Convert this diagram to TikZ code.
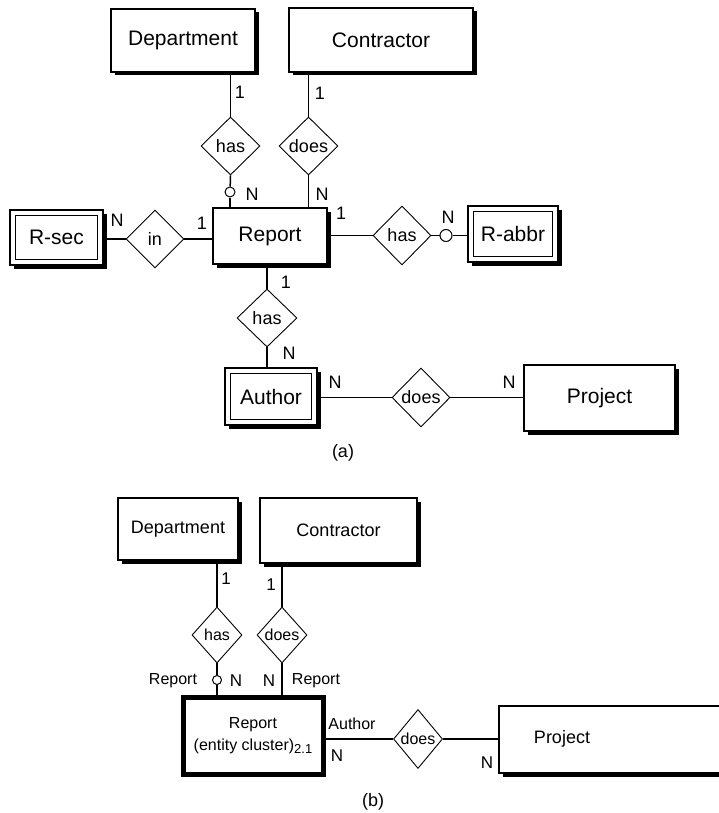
\documentclass[tikz,border=0pt]{standalone}
\usepackage{fontspec}
\setmainfont{Liberation Sans}
\usetikzlibrary{shapes.geometric,shadows}
\begin{document}
\begin{tikzpicture}[x=1pt,y=-1pt,
 ent/.style={draw, line width=1.6pt, fill=white, inner sep=0pt,
   drop shadow={shadow xshift=3.5pt,shadow yshift=-3.5pt,opacity=1,fill=black}},
 rel/.style={draw, diamond, line width=0.9pt, fill=white, inner sep=0pt, aspect=1},
 opt/.style={draw, circle, line width=1pt, fill=white, inner sep=0pt, minimum size=#1},
 opt/.default=10pt,
 fA/.style={font=\fontsize{21}{24}\selectfont},
 fB/.style={font=\fontsize{18}{21}\selectfont},
 fC/.style={font=\fontsize{16}{22}\selectfont},
 fD/.style={font=\fontsize{17}{20}\selectfont},
 lbl/.style={inner sep=0pt},
 conn/.style={line width=1.5pt},
 inner/.style={line width=1.2pt}]
\useasboundingbox (0,0) rectangle (719,813);
\clip (0,0) rectangle (719,813);

% ---------------- (a) ----------------
\node[ent, fA, minimum width=144pt, minimum height=63pt] (deptA) at (183,40.5) {Department};
\node[ent, fA, minimum width=184pt, minimum height=64pt] (contrA) at (381,40) {Contractor};
\node[ent, fA, minimum width=114pt, minimum height=56pt] (reportA) at (270,236) {Report};
\node[ent, fA, minimum width=93pt, minimum height=55pt] (rsec) at (56.5,237.5) {R-sec};
\node[ent, fA, minimum width=90pt, minimum height=56pt] (rabbr) at (513,234) {R-abbr};
\node[ent, fA, minimum width=92pt, minimum height=57pt] (author) at (271,396.5) {Author};
\node[ent, fA, minimum width=151pt, minimum height=66pt] (projA) at (599.5,398) {Project};
\foreach \n in {rsec,rabbr,author}
  \draw[inner] ([shift={(6.5,6.5)}]\n.north west) rectangle ([shift={(-6.5,-6.5)}]\n.south east);

\node[rel, fB, minimum width=59pt, minimum height=58pt] (hasA) at (230.5,146) {has};
\node[rel, fB, minimum width=59pt, minimum height=58pt] (doesA) at (308.5,146) {does};
\node[rel, fB, minimum width=58pt, minimum height=58pt] (inA) at (155,239) {in};
\node[rel, fB, minimum width=58pt, minimum height=59pt] (hasR) at (402,235.5) {has};
\node[rel, fB, minimum width=60pt, minimum height=58pt] (hasB) at (267,318) {has};
\node[rel, fB, minimum width=58pt, minimum height=59pt] (doesB) at (421,397.5) {does};

\node[opt] (c1) at (230,192) {};
\node[opt=12pt] (c2) at (446,235.5) {};

\draw[conn] (hasA.north) -- (hasA.north |- deptA.south);
\draw[conn] (hasA.south) -- (c1);
\draw[conn] (c1) -- (c1 |- reportA.north);
\draw[conn] (doesA.north) -- (doesA.north |- contrA.south);
\draw[conn] (doesA.south) -- (doesA.south |- reportA.north);
\draw[conn] (rsec.east |- inA.west) -- (inA.west);
\draw[conn] (inA.east) -- (inA.east -| reportA.west);
\draw[conn] (reportA.east |- hasR.west) -- (hasR.west);
\draw[conn] (hasR.east) -- (c2);
\draw[conn] (c2) -- (c2 -| rabbr.west);
\draw[conn] (hasB.north) -- (hasB.north |- reportA.south);
\draw[conn] (hasB.south) -- (hasB.south |- author.north);
\draw[conn] (author.east |- doesB.west) -- (doesB.west);
\draw[conn] (doesB.east) -- (doesB.east -| projA.west);

\node[lbl, fB] (la1) at (240,92) {1};
\node[lbl, fB] (la2) at (320,93) {1};
\node[lbl, fB] (la3) at (252,194) {N};
\node[lbl, fB] (la4) at (322,194) {N};
\node[lbl, fB] (la5) at (117,220) {N};
\node[lbl, fB] (la6) at (202,223) {1};
\node[lbl, fB] (la7) at (341,213) {1};
\node[lbl, fB] (la8) at (448,217) {N};
\node[lbl, fB] (la9) at (286,282) {1};
\node[lbl, fB] (la10) at (289,353) {N};
\node[lbl, fB] (la11) at (335,382) {N};
\node[lbl, fB] (la12) at (509,382) {N};
\node[lbl, fB] (capA) at (343,453) {(a)};

% ---------------- (b) ----------------
\node[ent, fB, minimum width=120pt, minimum height=62pt] (deptB) at (178,529) {Department};
\node[ent, fB, minimum width=157pt, minimum height=65pt] (contrB) at (338.5,530.5) {Contractor};
\node[draw, line width=5pt, fill=white, inner sep=0pt, fC, align=center,
      minimum width=140pt, minimum height=77pt] (cluster) at (253,735.5)
      {Report\\(entity cluster)\raisebox{-0.45ex}{\fontsize{13}{13}\selectfont 2.1}};
\node[ent, minimum width=261pt, minimum height=67pt] (projB) at (629.5,739.5) {};
\node[lbl, fB] (projBt) at (562,739) {Project};

\node[rel, fC, minimum width=50pt, minimum height=56pt] (hasC) at (217,635) {has};
\node[rel, fC, minimum width=50pt, minimum height=56pt] (doesC) at (282,635) {does};
\node[rel, fC, minimum width=49pt, minimum height=59pt] (doesD) at (418,739) {does};
\node[opt=9pt] (c3) at (217,680) {};

\draw[conn] (hasC.north) -- (hasC.north |- deptB.south);
\draw[conn] (hasC.south) -- (c3);
\draw[conn] (c3) -- (c3 |- cluster.north);
\draw[conn] (doesC.north) -- (doesC.north |- contrB.south);
\draw[conn] (doesC.south) -- (doesC.south |- cluster.north);
\draw[conn] (cluster.east |- doesD.west) -- (doesD.west);
\draw[conn] (doesD.east) -- (doesD.east -| projB.west);

\node[lbl, fD] (lb1) at (226,579) {1};
\node[lbl, fD] (lb2) at (271,585) {1};
\node[lbl, fC] (lb3) at (173,681) {Report};
\node[lbl, fD] (lb4) at (236,681) {N};
\node[lbl, fD] (lb5) at (269,681) {N};
\node[lbl, fC] (lb6) at (316,681) {Report};
\node[lbl, fC] (lb7) at (352,724) {Author};
\node[lbl, fD] (lb8) at (337,756) {N};
\node[lbl, fD] (lb9) at (487,763) {N};
\node[lbl, fB] (capB) at (373,802) {(b)};
\end{tikzpicture}
\end{document}
